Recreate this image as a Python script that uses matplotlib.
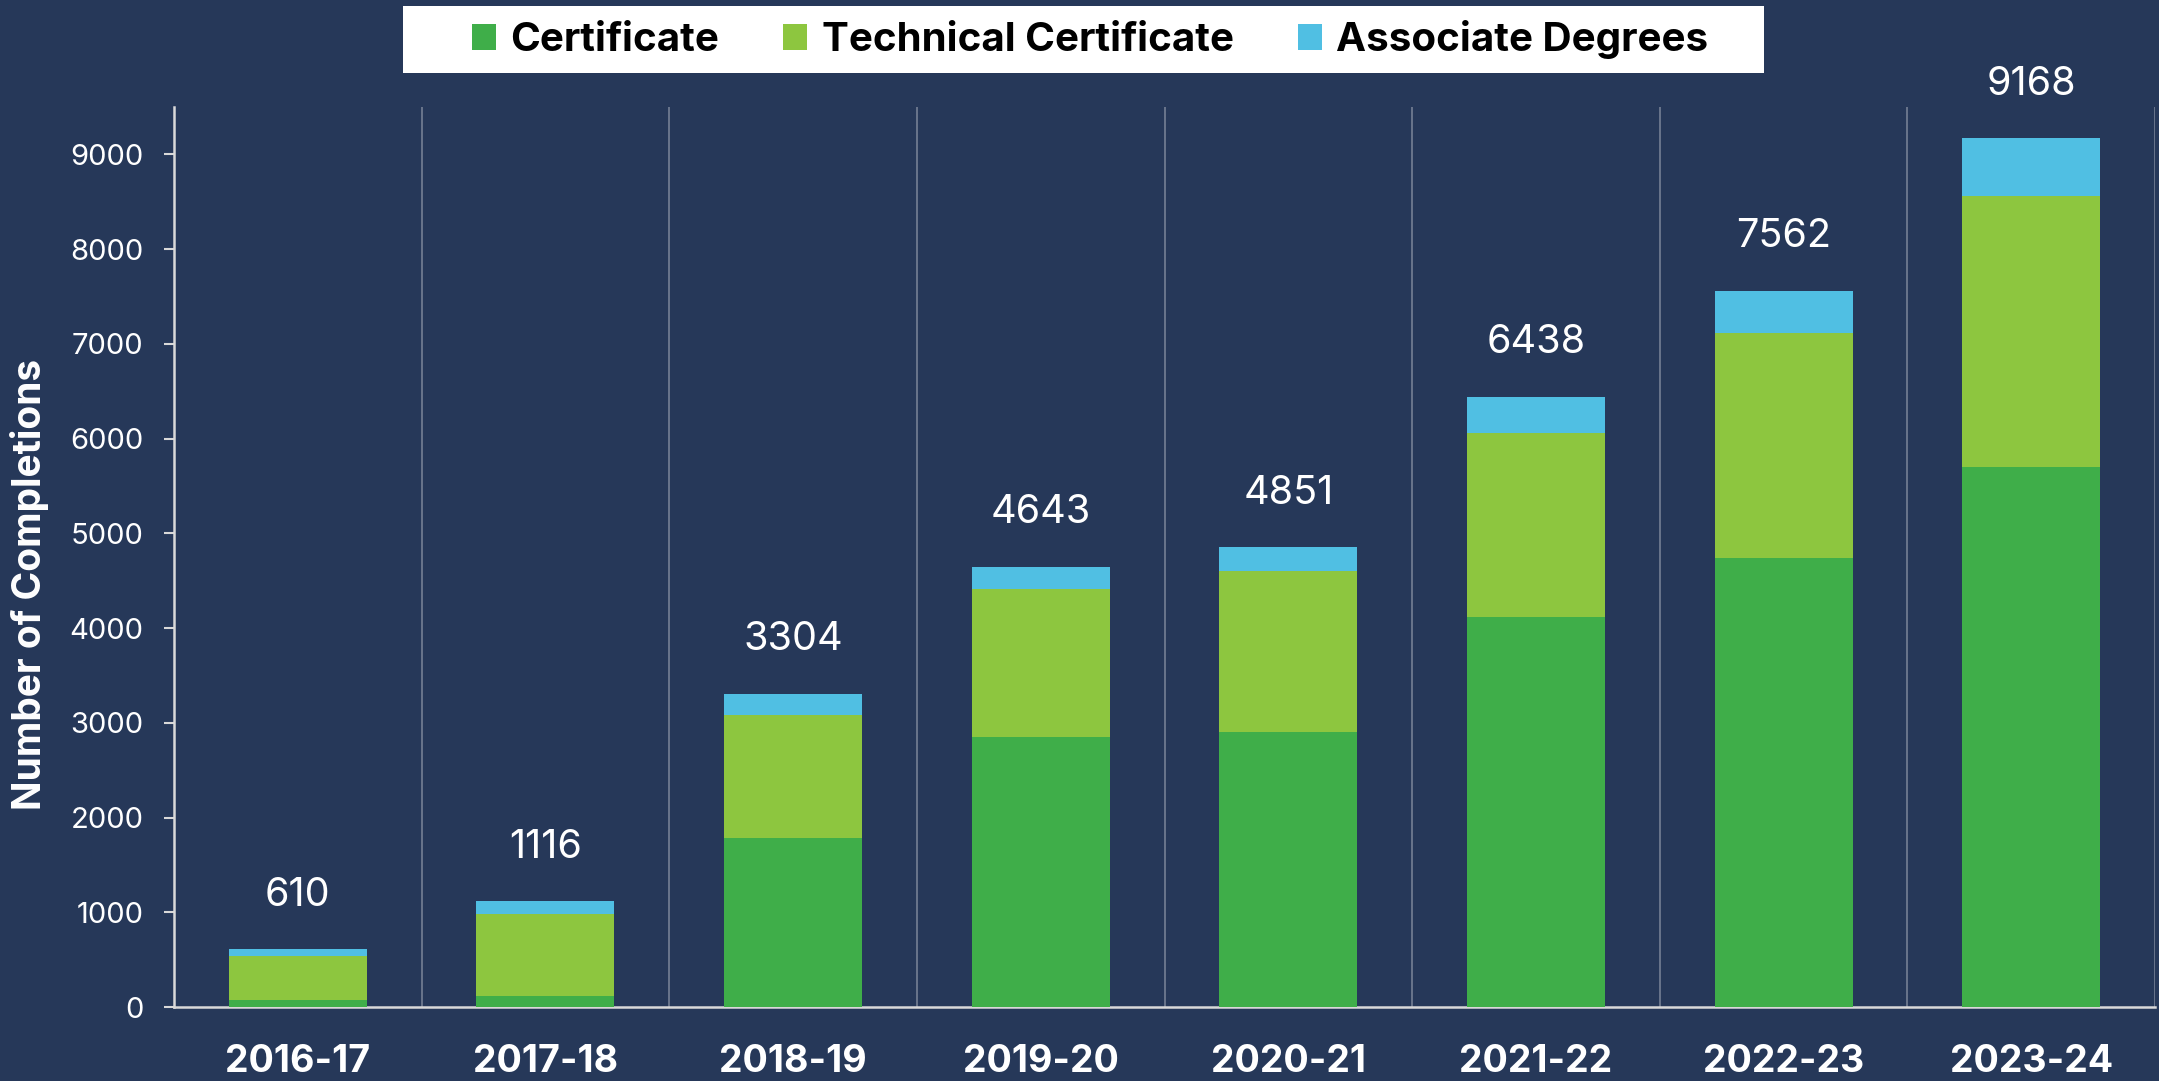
import matplotlib
matplotlib.use('Agg')
import matplotlib.pyplot as plt
from matplotlib.patches import Patch, Rectangle
import numpy as np

plt.rcParams['font.family'] = ['Inter', 'DejaVu Sans']

# completions by award type
years = ['2016-17', '2017-18', '2018-19', '2019-20', '2020-21', '2021-22', '2022-23', '2023-24']
certificate = [75, 115, 1780, 2850, 2900, 4120, 4740, 5705]
technical   = [460, 865, 1305, 1560, 1700, 1940, 2370, 2860]
associate   = [75, 136, 219, 233, 251, 378, 452, 603]
totals      = [610, 1116, 3304, 4643, 4851, 6438, 7562, 9168]

series_names = ['Certificate', 'Technical Certificate', 'Associate Degrees']
colors = ['#3fae49', '#8dc63f', '#50bfe3']
bg = '#263859'

W, H = 2159, 1081
fig = plt.figure(figsize=(W / 100, H / 100), dpi=100, facecolor=bg)
ax = fig.add_axes([174 / W, 1 - 1007 / H, 1981 / W, 900 / H])
ax.set_facecolor(bg)

x = np.arange(len(years))
bw = 0.557
bottom = np.zeros(len(years))
for vals, c in zip([certificate, technical, associate], colors):
    ax.bar(x, vals, bw, bottom=bottom, color=c, zorder=3)
    bottom += np.array(vals)

for xi, top, t in zip(x, bottom, totals):
    ax.annotate(str(t), (xi, top), xytext=(0, 39), textcoords='offset points',
                ha='center', va='center', color='white', fontsize=28.5, zorder=4)

ax.set_xlim(-0.5, len(years) - 0.5)
ax.set_ylim(0, 9500)
ax.set_yticks(range(0, 9001, 1000))
ax.set_xticks(x)
ax.set_xticklabels(years, fontsize=27, fontweight='bold', color='white')
ax.set_xticks(np.arange(0.5, len(years), 1), minor=True)
ax.tick_params(axis='x', which='both', length=0, pad=27)
ax.tick_params(axis='y', colors='#d9d9d9', labelcolor='white', labelsize=21,
               length=7, width=1.5, pad=15)
ax.grid(which='minor', axis='x', color='#6f7a90', linewidth=1.3, zorder=1)
ax.grid(which='major', visible=False)

for s in ['top', 'right']:
    ax.spines[s].set_visible(False)
for s in ['left', 'bottom']:
    ax.spines[s].set_color('#d9d9d9')
    ax.spines[s].set_linewidth(1.8)

fig.text(30 / W, 1 - 584 / H, 'Number of Completions', rotation=90,
         ha='center', va='center', color='white', fontsize=28, fontweight='bold')

# white legend box along the top
fig.patches.append(Rectangle((403 / W, 1 - 73 / H), 1361 / W, 67 / H,
                             transform=fig.transFigure, facecolor='white',
                             edgecolor='none', zorder=0))
handles = [Patch(facecolor=c, edgecolor='none') for c in colors]
leg = fig.legend(handles, series_names, loc='center', ncol=3,
                 bbox_to_anchor=(1090 / W, 1 - 39.5 / H), frameon=False,
                 prop={'size': 29, 'weight': 'bold'},
                 handlelength=0.6, handleheight=0.6, handletextpad=0.35,
                 columnspacing=1.6)
for t in leg.get_texts():
    t.set_color('black')

plt.savefig('out.png', dpi=100, facecolor=bg)
